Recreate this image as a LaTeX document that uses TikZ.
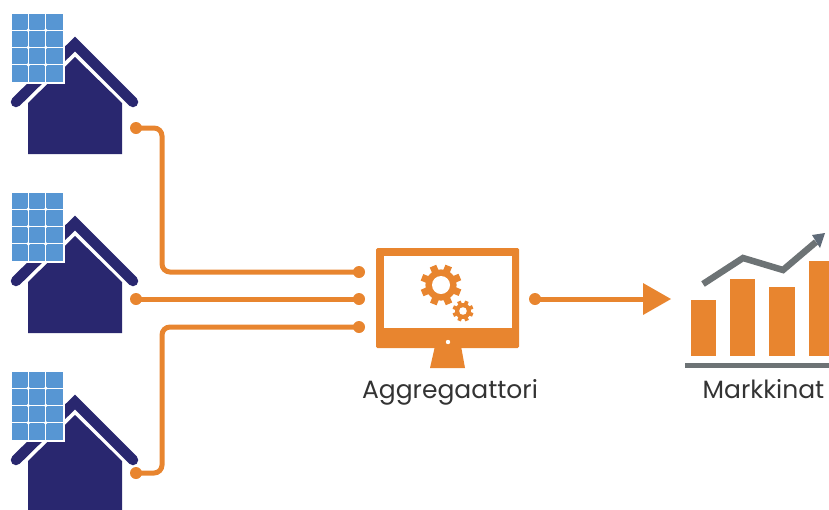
\documentclass[tikz,border=0pt]{standalone}
\usepackage{fontspec}
\setmainfont{Poppins}
\usetikzlibrary{calc,positioning}

\definecolor{wire}{HTML}{E8852F}
\definecolor{navy}{HTML}{29276F}
\definecolor{cell}{HTML}{5796D3}
\definecolor{slate}{HTML}{6D7375}
\definecolor{peak}{HTML}{5F6B78}
\definecolor{ink}{HTML}{333333}

\newcommand{\gearicon}[4]{
  \foreach \a in {0,45,...,315}
    \draw[wire,line width=#4] (#1) ++(\a+22:#2*0.6) -- ++(\a+22:#2*0.4);
  \fill[wire] (#1) circle (#2*0.76);
  \fill[white] (#1) circle (#3);
}

\begin{document}
\begin{tikzpicture}[
  x=1pt,y=-1pt,
  dot/.style={circle,fill=wire,inner sep=0pt,minimum size=12pt},
  link/.style={wire,line width=5pt,rounded corners=8pt},
  label/.style={text=ink,font=\fontsize{25}{28}\selectfont,inner sep=0pt,anchor=base},
  bar/.style={fill=wire}
  ]

  \clip (0,0) rectangle (829,509);

  \foreach \dy in {0,179,358} {
    \begin{scope}[yshift=-\dy pt]
      \fill[navy] (28,103) -- (75,57) -- (122,103) -- (122,154) -- (28,154) -- cycle;
      \draw[navy,line width=10.5pt,line cap=round] (16,102) -- (75,44) -- (133,102);
      \fill[white] (11,13) rectangle (65,84);
      \fill[cell] (11,13) rectangle (63,82);
      \draw[white,line width=0.6pt,shift={(11,13)},xstep=17.33,ystep=-17.25] (0,0) grid (52,69);
      \foreach \gx in {28.3,45.7}
        \foreach \gy in {30.2,47.5,64.8}
          \fill[white] (\gx,\gy) circle (1.9);
    \end{scope}
  }

  \node[dot] (solarA) at (136,128) {};
  \node[dot] (solarB) at (136,299) {};
  \node[dot] (solarC) at (136,473) {};
  \node[dot] (inA) at (359,272) {};
  \node[dot] (inB) at (359,299) {};
  \node[dot] (inC) at (359,327) {};
  \coordinate (busA) at (162,272);
  \coordinate (busC) at (162,327);

  \draw[link] (solarA.center) -| (busA) -- (inA.center);
  \draw[link] (solarB.center) -- (inB.center);
  \draw[link] (solarC.center) -| (busC) -- (inC.center);

  \fill[wire,rounded corners=1.5pt] (376,248) rectangle (519,348);
  \fill[white] (384,256) rectangle (512,328);
  \fill[wire] (435,346) -- (461,346) -- (465,368) -- (430,368) -- cycle;
  \fill[white] (448,342) circle (2.2);
  \gearicon{441,285}{20.5}{9}{7pt}
  \gearicon{463,311}{10.5}{3.8}{3.8pt}

  \node[label] (aggr) at (450,398) {Aggregaattori};

  \node[dot] (out) at (535,299) {};
  \coordinate (tip) at (671,299);
  \fill[wire] (643,283) -- (tip) -- (643,315) -- cycle;
  \draw[link] (out.center) -- (645,299);

  \fill[bar] (691,300) rectangle (716,356);
  \fill[bar] (730,279) rectangle (755,356);
  \fill[bar] (769,287) rectangle (795,356);
  \fill[bar] (809,261) rectangle (829,356);
  \fill[slate] (685,363) rectangle (829,368);
  \draw[slate,line width=6.5pt] (703,284) -- (743,258) -- (783,270) -- (816,242);
  \fill[peak] (812,235) -- (825,233) -- (820,248) -- cycle;

  \node[label] (market) at (763.5,398) {Markkinat};

\end{tikzpicture}
\end{document}
